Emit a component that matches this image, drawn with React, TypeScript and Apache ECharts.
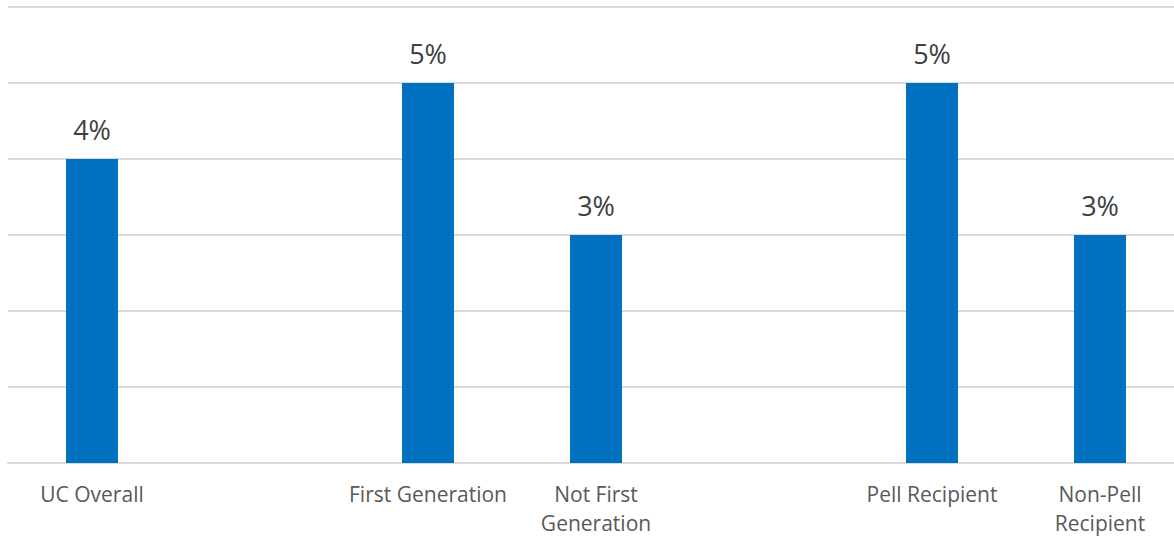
import React, { useEffect, useRef } from "react";
import * as echarts from "echarts";

const categories = [
  "UC Overall",
  " ",
  "First Generation",
  "Not First\nGeneration",
  "  ",
  "Pell Recipient",
  "Non-Pell\nRecipient",
];
const values: (number | string)[] = [4, "-", 5, 3, "-", 5, 3];
const yTicks = [0, 1, 2, 3, 4, 5, 6];

export default function App() {
  const ref = useRef<HTMLDivElement>(null);
  useEffect(() => {
    if (!ref.current) return;
    const chart = echarts.init(ref.current, null, { renderer: "svg" });
    chart.setOption({
      animation: false,
      backgroundColor: "#ffffff",
      grid: { left: 8, width: 1176, top: 7, height: 456, containLabel: false },
      xAxis: {
        type: "category",
        data: categories,
        axisLine: { show: true, lineStyle: { color: "#d9d9d9", width: 2 } },
        axisTick: { show: false },
        axisLabel: {
          interval: 0,
          color: "#595959",
          fontSize: 21,
          lineHeight: 29,
          margin: 16,
          fontFamily: "Open Sans",
        },
      },
      yAxis: {
        type: "value",
        min: yTicks[0],
        max: yTicks[yTicks.length - 1],
        interval: 1,
        axisLabel: { show: false },
        axisLine: { show: false },
        axisTick: { show: false },
        splitLine: { show: true, lineStyle: { color: "#d9d9d9", width: 2 } },
      },
      series: [
        {
          type: "bar",
          data: values,
          barWidth: 52,
          itemStyle: { color: "#0070c0" },
          label: {
            show: true,
            position: "top",
            distance: 16,
            formatter: "{c}%",
            color: "#404040",
            fontSize: 27,
            fontFamily: "Open Sans",
          },
        },
      ],
    });
    return () => chart.dispose();
  }, []);
  return (
    <div
      style={{
        position: "fixed",
        left: 0,
        top: 0,
        width: 1174,
        height: 537,
        overflow: "hidden",
        background: "#fff",
      }}
    >
      <div ref={ref} style={{ width: 1200, height: 537 }} />
    </div>
  );
}
